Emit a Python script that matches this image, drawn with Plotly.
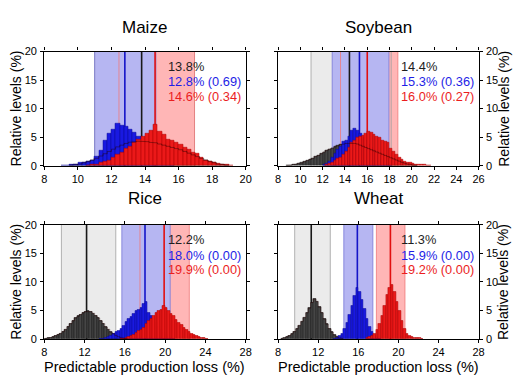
import plotly.graph_objects as go

# ---------------- data ----------------
crops = ["Maize", "Soybean", "Rice", "Wheat"]
bin_width = 0.25

# histogram left edge of first bin, and bin heights (%)
maize_black_start = 9.5
maize_black = [0.1, 0.2, 0.3, 0.5, 0.7, 1.0, 1.3, 1.7, 2.1, 2.5, 2.9, 3.3, 3.6, 3.9, 4.1, 4.2, 4.3, 4.3, 4.2,
               4.1, 4.0, 3.8, 3.6, 3.4, 3.2, 3.0, 2.8, 2.5, 2.2, 1.9, 1.6, 1.3, 1.0, 0.7, 0.5, 0.3, 0.2, 0.1]
maize_blue_start = 9.0
maize_blue = [0.1, 0.1, 0.2, 0.3, 0.5, 0.6, 0.7, 1.0, 1.6, 2.6, 4.4, 5.7, 6.4, 7.4, 7.0, 6.8, 6.3, 5.9, 5.2,
              4.3, 3.3, 2.4, 1.6, 1.0, 0.6, 0.3, 0.1]
maize_red_start = 10.5
maize_red = [0.1, 0.2, 0.3, 0.5, 0.7, 1.0, 1.4, 1.9, 2.4, 3.0, 3.4, 4.0, 4.6, 5.2, 5.6, 6.2, 7.3, 6.0, 5.4,
             4.6, 4.4, 4.1, 3.7, 3.2, 2.8, 2.4, 2.2, 1.4, 1.0, 0.8, 0.6, 0.4, 0.3, 0.15, 0.1]

soy_black_start = 8.75
soy_black = [0.05, 0.1, 0.2, 0.3, 0.4, 0.5, 0.7, 0.9, 1.1, 1.3, 1.6, 1.8, 2.1, 2.4, 2.7, 2.9, 3.1, 3.3, 3.5,
             3.7, 3.8, 3.9, 4.0, 4.0, 3.9, 3.8, 3.6, 3.4, 3.2, 3.0, 2.8, 2.6, 2.4, 2.2, 2.0, 1.8, 1.6, 1.4,
             1.2, 1.0, 0.8, 0.6, 0.45, 0.3, 0.2, 0.1, 0.05]
soy_blue_start = 12.0
soy_blue = [0.2, 0.4, 0.8, 1.4, 2.2, 2.8, 3.4, 4.2, 4.5, 5.2, 6.2, 6.6, 6.2, 5.6, 5.0, 4.4, 3.8, 3.2, 2.6,
            2.0, 1.5, 1.0, 0.6, 0.3, 0.1]
soy_red_start = 12.25
soy_red = [0.2, 0.4, 0.6, 0.9, 1.2, 1.5, 2.0, 2.5, 3.2, 4.0, 4.5, 4.9, 5.1, 5.3, 5.6, 6.0, 5.8, 5.4, 5.2,
           5.0, 4.5, 4.2, 4.0, 3.1, 2.5, 2.0, 1.4, 1.1, 0.8, 0.6, 0.5, 0.4, 0.3, 0.25, 0.2, 0.15, 0.1, 0.05]

rice_black_start = 8.0
rice_black = [0.1, 0.15, 0.25, 0.4, 0.6, 0.8, 1.0, 1.3, 1.7, 2.2, 2.7, 3.2, 3.7, 4.0, 4.3, 4.6, 4.8, 4.9,
              4.8, 4.5, 4.1, 3.7, 3.2, 2.7, 2.1, 1.7, 1.2, 0.9, 0.6, 0.4, 0.25, 0.15, 0.05]
rice_blue_start = 13.5
rice_blue = [0.05, 0.1, 0.2, 0.35, 0.6, 0.9, 1.2, 1.5, 1.8, 2.3, 3.0, 3.6, 3.9, 4.4, 4.9, 5.2, 5.5, 6.2,
             6.6, 4.6, 4.1, 3.5, 2.8, 2.2, 1.6, 1.1, 0.7, 0.4, 0.2, 0.1]
rice_red_start = 15.5
rice_red = [0.05, 0.1, 0.2, 0.35, 0.5, 0.8, 1.1, 1.4, 1.7, 2.0, 2.6, 3.2, 3.6, 4.1, 4.6, 4.9, 5.2, 5.8,
            5.4, 5.0, 4.5, 4.1, 3.4, 2.9, 2.5, 2.0, 1.6, 1.3, 1.0, 0.8, 0.6, 0.4, 0.25, 0.15, 0.1]

wheat_black_start = 8.25
wheat_black = [0.1, 0.2, 0.4, 0.6, 0.9, 1.3, 1.8, 2.4, 3.1, 3.8, 4.6, 5.4, 6.4, 7.0, 6.6, 5.6, 4.6, 3.5,
               2.6, 1.8, 1.2, 0.7, 0.4, 0.2, 0.1]
wheat_blue_start = 13.5
wheat_blue = [0.1, 0.2, 0.5, 1.0, 1.8, 2.9, 4.2, 5.8, 7.5, 8.9, 8.2, 6.8, 5.3, 3.6, 2.2, 1.2, 0.6, 0.25, 0.1]
wheat_red_start = 16.75
wheat_red = [0.2, 0.4, 0.6, 1.0, 1.6, 2.6, 4.1, 5.8, 7.7, 9.0, 9.5, 8.3, 6.6, 5.0, 3.2, 1.8, 1.0, 0.6,
             0.4, 0.3, 0.2, 0.15, 0.05]

# mean values (%)
black_mean = [13.8, 14.4, 12.2, 11.3]
blue_mean = [12.8, 15.3, 18.0, 15.9]
red_mean = [14.6, 16.0, 19.9, 19.2]
blue_p = ["0.69", "0.36", "0.00", "0.00"]
red_p = ["0.34", "0.27", "0.00", "0.00"]

# uncertainty bands (lo, hi)
gray_band = [(11.0, 16.95), (10.95, 18.15), (9.7, 15.1), (9.65, 13.2)]
blue_band = [(11.0, 14.65), (12.85, 17.95), (15.7, 20.5), (14.55, 17.45)]
red_band = [(12.45, 16.95), (13.6, 18.75), (17.5, 22.4), (17.8, 20.65)]

x_ranges = [(8, 20), (8, 26), (8, 28), (8, 28)]
x_dticks = [2, 2, 4, 4]
y_ticks = [0, 5, 10, 15, 20]

hists = [
    [(maize_black_start, maize_black), (maize_blue_start, maize_blue), (maize_red_start, maize_red)],
    [(soy_black_start, soy_black), (soy_blue_start, soy_blue), (soy_red_start, soy_red)],
    [(rice_black_start, rice_black), (rice_blue_start, rice_blue), (rice_red_start, rice_red)],
    [(wheat_black_start, wheat_black), (wheat_blue_start, wheat_blue), (wheat_red_start, wheat_red)],
]

# ---------------- styling ----------------
W, H = 520, 376
FONT = "Liberation Sans, Arial, Helvetica, sans-serif"
bar_fill = ["rgb(70,70,70)", "rgb(25,25,225)", "rgb(235,25,25)"]
bar_line = ["rgb(20,20,20)", "rgb(10,10,150)", "rgb(170,0,0)"]
band_fill = ["rgb(235,235,235)", "rgb(182,182,242)", "rgb(255,182,182)"]
band_edge = ["rgb(160,160,160)", "rgb(120,120,215)", "rgb(240,120,120)"]
mean_col = ["rgb(25,25,25)", "rgb(20,20,200)", "rgb(225,15,15)"]
text_col = ["rgb(30,30,30)", "rgb(30,30,230)", "rgb(235,30,30)"]

# pixel boxes of plot areas (left, right, top, bottom)
boxes = [(42, 247, 47, 165), (280, 484, 47, 165), (42, 247, 226, 344), (280, 484, 226, 344)]

fig = go.Figure()
shapes = []
annotations = []

for k in range(4):
    xa = "x" if k == 0 else f"x{k+1}"
    ya = "y" if k == 0 else f"y{k+1}"
    # histograms
    for j, (start, vals) in enumerate(hists[k]):
        centers = [start + bin_width * (i + 0.5) for i in range(len(vals))]
        fig.add_trace(go.Bar(x=centers, y=vals, width=bin_width, xaxis=xa, yaxis=ya,
                             marker=dict(color=bar_fill[j], line=dict(color=bar_line[j], width=0.5)),
                             showlegend=False, hoverinfo="skip"))
    # black histogram outline visible through overlying bars
    start, vals = hists[k][0]
    xs, ys = [], []
    for i, v in enumerate(vals):
        xs += [start + bin_width * i, start + bin_width * (i + 1)]
        ys += [v, v]
    fig.add_trace(go.Scatter(x=xs, y=ys, mode="lines", xaxis=xa, yaxis=ya,
                             line=dict(color="rgba(40,0,0,0.55)", width=0.8),
                             showlegend=False, hoverinfo="skip"))
    # bands
    for j, band in enumerate([gray_band[k], red_band[k], blue_band[k]]):
        col = band_fill[[0, 2, 1][j]]
        shapes.append(dict(type="rect", xref=xa, yref=ya, x0=band[0], x1=band[1], y0=0, y1=20,
                           fillcolor=col, line=dict(width=0), layer="below"))
    for j, band in enumerate([gray_band[k], blue_band[k], red_band[k]]):
        for xv in band:
            shapes.append(dict(type="line", xref=xa, yref=ya, x0=xv, x1=xv, y0=0, y1=20,
                               line=dict(color=band_edge[j], width=0.8), layer="below"))
    # mean lines
    for j, mv in enumerate([black_mean[k], blue_mean[k], red_mean[k]]):
        shapes.append(dict(type="line", xref=xa, yref=ya, x0=mv, x1=mv, y0=0, y1=20,
                           line=dict(color=mean_col[j], width=1.6), layer="below"))
    # texts
    labels = [f"{black_mean[k]:.1f}%", f"{blue_mean[k]:.1f}% ({blue_p[k]})", f"{red_mean[k]:.1f}% ({red_p[k]})"]
    for j, (lab, yy) in enumerate(zip(labels, [0.87, 0.735, 0.605])):
        annotations.append(dict(text=lab, xref=f"{xa} domain", yref=f"{ya} domain", x=0.605, y=yy,
                                xanchor="left", yanchor="middle", showarrow=False,
                                font=dict(size=12.8, color=text_col[j], family=FONT)))
    # titles
    l, r, t, b = boxes[k]
    annotations.append(dict(text=crops[k], xref="paper", yref="paper", x=(l + r) / 2 / W,
                            y=1 - (22 if k < 2 else 199) / H, xanchor="center", yanchor="middle",
                            showarrow=False, font=dict(size=17, color="black", family=FONT)))

# axis titles
for k in range(4):
    l, r, t, b = boxes[k]
    xpos = 13 if k % 2 == 0 else 509
    annotations.append(dict(text="Relative levels (%)", xref="paper", yref="paper", x=xpos / W,
                            y=1 - ((t + b) / 2) / H, textangle=-90, xanchor="center", yanchor="middle",
                            showarrow=False, font=dict(size=14, color="black", family=FONT)))
for k in (2, 3):
    l, r, t, b = boxes[k]
    annotations.append(dict(text="Predictable production loss (%)", xref="paper", yref="paper",
                            x=(l + r) / 2 / W, y=-0.02, xanchor="center", yanchor="bottom",
                            showarrow=False, font=dict(size=14.5, color="black", family=FONT)))

layout = dict(width=W, height=H, margin=dict(l=0, r=0, t=0, b=0), paper_bgcolor="white",
              plot_bgcolor="white", barmode="overlay", bargap=0, shapes=shapes, annotations=annotations,
              showlegend=False)
for k in range(4):
    l, r, t, b = boxes[k]
    xkey = "xaxis" if k == 0 else f"xaxis{k+1}"
    ykey = "yaxis" if k == 0 else f"yaxis{k+1}"
    ya = "y" if k == 0 else f"y{k+1}"
    xa = "x" if k == 0 else f"x{k+1}"
    common = dict(showline=True, linecolor="black", linewidth=1.3, mirror="ticks", ticks="outside",
                  ticklen=3, tickwidth=1, tickcolor="black", showgrid=False, zeroline=False,
                  tickfont=dict(size=11, color="black", family=FONT))
    layout[xkey] = dict(common, domain=[l / W, r / W], range=list(x_ranges[k]), dtick=x_dticks[k],
                        tick0=8, anchor=ya, ticklabelstandoff=0)
    layout[ykey] = dict(common, domain=[1 - b / H, 1 - t / H], range=[0, 20], tickvals=y_ticks,
                        anchor=xa, side="left" if k % 2 == 0 else "right", ticklabelstandoff=1)
fig.update_layout(**layout)
fig.write_html("out.html")
